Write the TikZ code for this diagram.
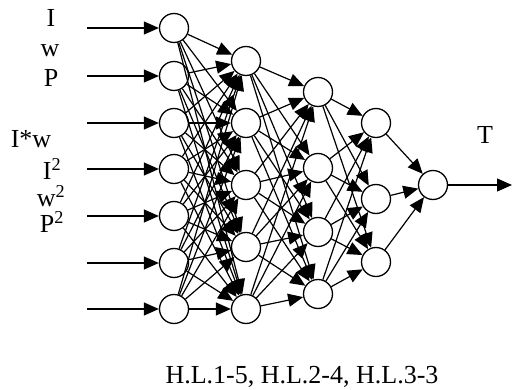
\documentclass[tikz,border=0pt]{standalone}
\usepackage{fontspec}
\setmainfont{Liberation Serif}
\usetikzlibrary{arrows.meta}
\begin{document}
\begin{tikzpicture}[x=1pt,y=-1pt,
  neuron/.style={circle,draw,line width=1.3pt,minimum size=29pt,inner sep=0pt},
  link/.style={line width=1.2pt,-{Triangle[length=15pt,width=13pt]}},
  lab/.style={font=\fontsize{26}{30}\selectfont,inner sep=0pt,anchor=base}]
\useasboundingbox (0,0) rectangle (512,390);
% input layer with its feed arrows
\foreach \i/\y in {1/28,2/76,3/123,4/169,5/216,6/263,7/309}{
  \node[neuron] (a\i) at (174,\y) {};
  \coordinate (s\i) at (87,\y);
  \draw[link] (s\i) -- (a\i);
}
% hidden layer 1 (5 neurons)
\foreach \i/\y in {1/61,2/123,3/185,4/247,5/309}
  \node[neuron] (b\i) at (246,\y) {};
% hidden layer 2 (4 neurons)
\foreach \i/\y in {1/92,2/168,3/232,4/294}
  \node[neuron] (c\i) at (318,\y) {};
% hidden layer 3 (3 neurons)
\foreach \i/\y in {1/123,2/199,3/262}
  \node[neuron] (d\i) at (376,\y) {};
% output neuron
\node[neuron] (o) at (433,185) {};
\coordinate (t) at (512,185);
% full connections between consecutive layers
\foreach \i in {1,...,7}
  \foreach \j in {1,...,5}
    \draw[link] (a\i) -- (b\j);
\foreach \i in {1,...,5}
  \foreach \j in {1,...,4}
    \draw[link] (b\i) -- (c\j);
\foreach \i in {1,...,4}
  \foreach \j in {1,...,3}
    \draw[link] (c\i) -- (d\j);
\foreach \i in {1,...,3}
  \draw[link] (d\i) -- (o);
\draw[link] (o) -- (t);
% input labels
\node[lab] (lI) at (51,27) {I};
\node[lab] (lw) at (50,57) {w};
\node[lab] (lP) at (51,87) {P};
\node[lab] (lIw) at (31,148) {I*w};
\node[lab] (lI2) at (52,180) {I\textsuperscript{2}};
\node[lab] (lw2) at (51,207) {w\textsuperscript{2}};
\node[lab] (lP2) at (52,233) {P\textsuperscript{2}};
% output label
\node[lab] (lT) at (485,144) {T};
% caption
\node[lab] (cap) at (302,384) {H.L.1-5, H.L.2-4, H.L.3-3};
\end{tikzpicture}
\end{document}
